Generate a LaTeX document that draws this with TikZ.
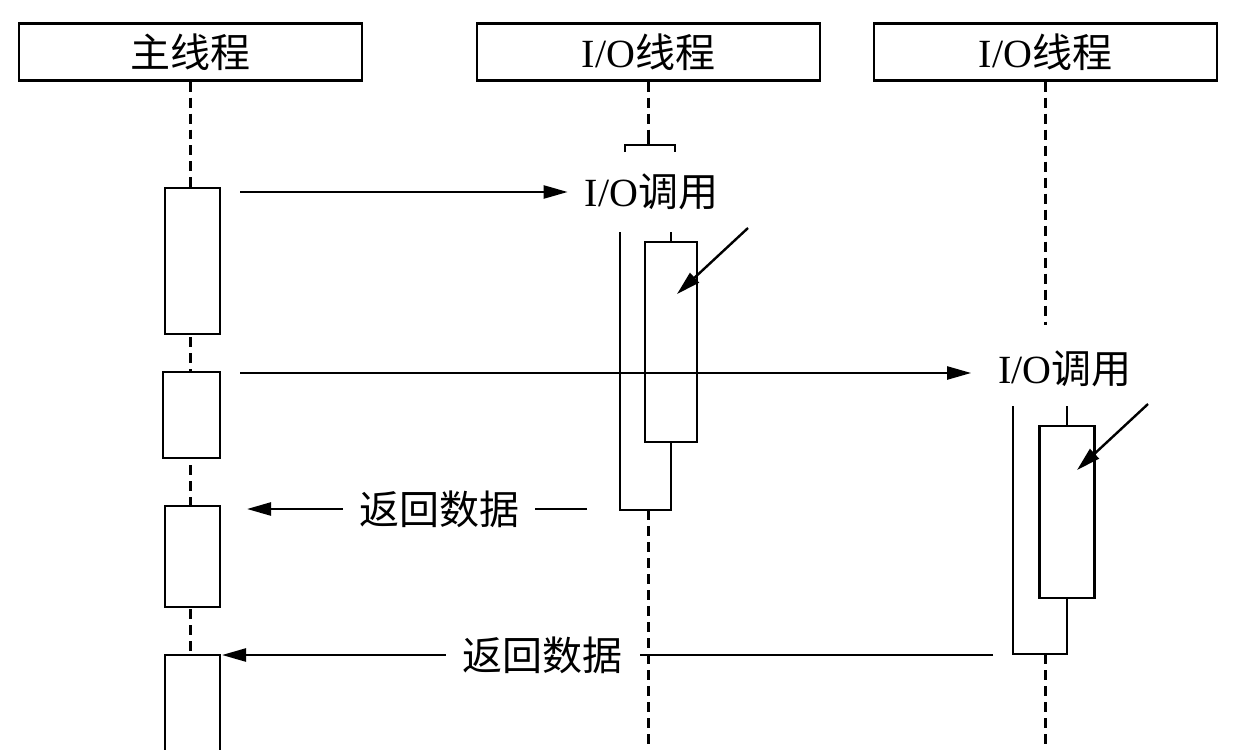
\documentclass[tikz,border=0pt]{standalone}
\usepackage{fontspec}
\setmainfont{Liberation Serif}
\newfontfamily\cjk{Noto Sans CJK SC}
\usetikzlibrary{arrows.meta}
\begin{document}
\begin{tikzpicture}[x=1pt,y=-1pt, line width=2.4pt,
  head/.style={draw, minimum width=343pt, minimum height=57pt, inner sep=0pt, font=\fontsize{40}{44}\selectfont},
  lbl/.style={inner sep=0pt, font=\fontsize{40}{44}\selectfont},
  rlbl/.style={fill=white, inner ysep=0pt, font=\fontsize{40}{44}\selectfont},
  life/.style={dash pattern=on 10pt off 6pt},
  act/.style={draw, fill=white, inner sep=0pt},
  msg/.style={-{Triangle[length=24pt,width=13pt]}}]
\useasboundingbox (0,0) rectangle (1257,749);
% headers
\node[head] (hm) at (190.5,52) {{\cjk 主线程}};
\node[head] (h1) at (648.5,52) {I/O{\cjk 线程}};
\node[head] (h2) at (1045.5,52) {I/O{\cjk 线程}};
% lifeline coordinates
\coordinate (mEnd) at (190.5,749);
\coordinate (s1) at (648.5,145);
\coordinate (l1a) at (648.5,510);
\coordinate (l1b) at (648.5,749);
\coordinate (s2) at (1045.5,325);
\coordinate (l2a) at (1045.5,654);
\coordinate (l2b) at (1045.5,749);
% lifelines
\draw[life] (hm.south) -- ([yshift=6pt]s1 -| hm.south);
\draw[life] (hm.south |- s1) -- (mEnd);
\draw[life] (h1.south) -- ([yshift=6pt]s1);
\draw ([yshift=6pt]s1) -- (s1);
\draw[life] (l1a) -- (l1b);
\draw[life] (h2.south) -- (s2);
\draw[life] (l2a) -- (l2b);
% bracket on first I/O thread
\draw (625,152) -- (625,145) -- (s1) -- (675,145) -- (675,152);
% main thread activations
\node[act, minimum width=55pt, minimum height=146pt] (b1) at (192.5,261) {};
\node[act, minimum width=57pt, minimum height=86pt] (b2) at (191.5,415) {};
\node[act, minimum width=55pt, minimum height=101pt] (b3) at (192.5,556.5) {};
\node[act, minimum width=55pt, minimum height=110pt] (b4) at (192.5,710) {};
% first I/O thread activation
\node[act, minimum width=52pt, minimum height=200pt] (a1) at (671,342) {};
\draw (a1.north) -- (671,232);
\draw (620,232) -- (620,510) -- (671,510) -- (a1.south);
% second I/O thread activation
\node[act, minimum width=55pt, minimum height=172pt] (a2) at (1067,512) {};
\draw (a2.north) -- (1067,406);
\draw (1013,406) -- (1013,654) -- (1067,654) -- (a2.south);
% call labels and arrows
\node[lbl] (c1) at (651.5,192) {I/O{\cjk 调用}};
\node[lbl] (c2) at (1065,369) {I/O{\cjk 调用}};
\coordinate (m1) at (240,192);
\coordinate (m2) at (240,373);
\draw[msg] (m1) -- ([xshift=-16pt]c1.west |- m1);
\draw[msg] (m2) -- ([xshift=-26pt]c2.west |- m2);
% diagonal arrows
\coordinate (d1s) at (748,228);
\coordinate (d1e) at (677,294);
\coordinate (d2s) at (1148,404);
\coordinate (d2e) at (1077,470);
\draw[msg] (d1s) -- (d1e);
\draw[msg] (d2s) -- (d2e);
% returns
\coordinate (r1s) at (587,509);
\coordinate (r1e) at (247,509);
\coordinate (r2s) at (993,655);
\coordinate (r2e) at (222,655);
\draw[msg] (r1s) -- node[rlbl, pos=0.435, inner xsep=16pt] (t1) {{\cjk 返回数据}} (r1e);
\draw[msg] (r2s) -- node[rlbl, pos=0.584, inner xsep=17pt] (t2) {{\cjk 返回数据}} (r2e);
\end{tikzpicture}
\end{document}
